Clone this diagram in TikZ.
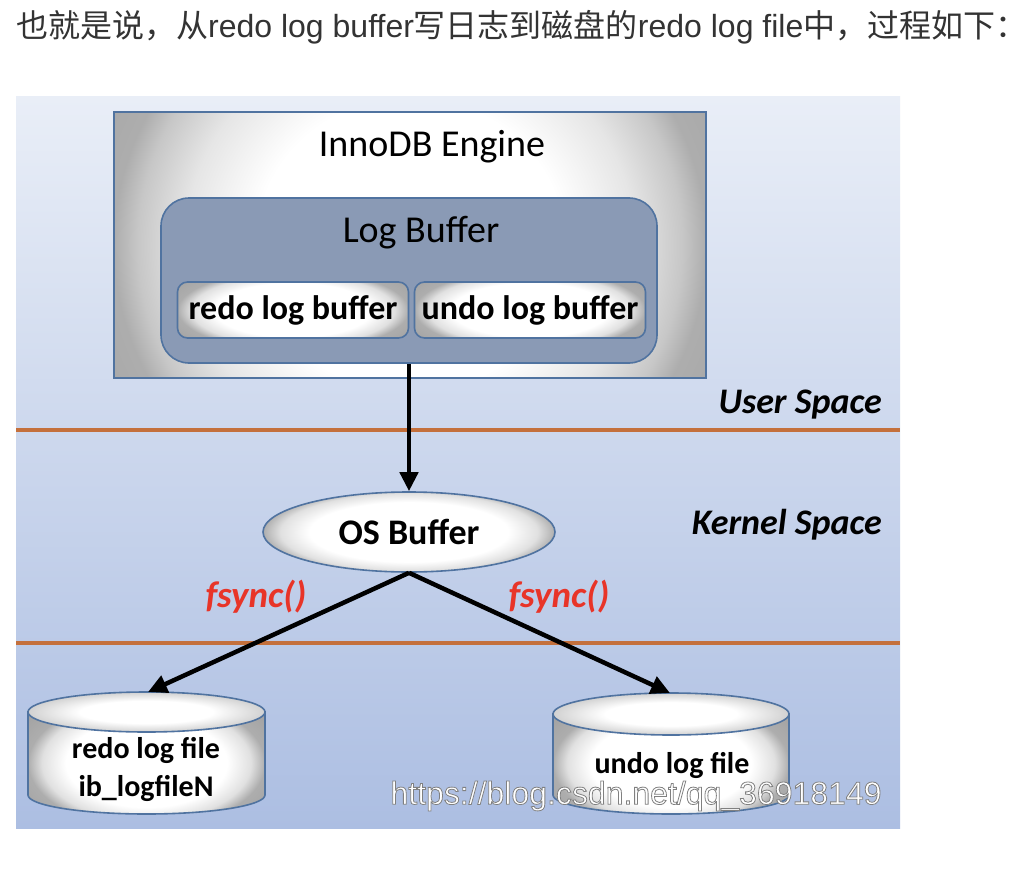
\documentclass[tikz,border=0pt]{standalone}
\usepackage{fontspec}
\setmainfont{Carlito}
\newfontfamily\cjk{Noto Sans CJK SC}
\newfontfamily\arialf{Liberation Sans}
\usetikzlibrary{arrows.meta,shapes.geometric}
\definecolor{bordblue}{RGB}{80,115,160}
\definecolor{lbfill}{RGB}{138,154,181}
\definecolor{orangeline}{RGB}{196,112,60}
\definecolor{fsred}{RGB}{232,52,40}
\definecolor{bgtop}{RGB}{233,238,247}
\definecolor{bgbot}{RGB}{172,190,226}
\definecolor{titlegray}{RGB}{51,51,51}
\pgfdeclareradialshading{radgray}{\pgfpoint{0bp}{0bp}}{color(0bp)=(white); color(17bp)=(white); color(22bp)=(black!12); color(25bp)=(black!32); color(36bp)=(black!40); color(50bp)=(black!40)}
\pgfdeclareradialshading{engshade}{\pgfpoint{0bp}{0bp}}{color(0bp)=(white); color(13bp)=(white); color(19bp)=(black!10); color(23bp)=(black!22); color(25bp)=(black!32); color(36bp)=(black!38); color(50bp)=(black!38)}
\pgfdeclareradialshading{lightgray}{\pgfpoint{0bp}{0bp}}{color(0bp)=(white); color(14bp)=(white); color(25bp)=(black!18); color(50bp)=(black!18)}
\tikzset{
  gshade/.style={path picture={\shade[shading=radgray] ([yshift=-#1]path picture bounding box.south west) rectangle ([yshift=#1]path picture bounding box.north east);}},
  sep/.style={draw=orangeline, line width=3.2pt},
  boxborder/.style={draw=bordblue, line width=1.6pt},
  bufbox/.style={boxborder, gshade=12pt, rounded corners=10pt, minimum width=231pt, minimum height=56pt, inner sep=0pt, font=\bfseries\fontsize{34}{36}\selectfont},
  plainlbl/.style={inner sep=0pt, font=\fontsize{38}{40}\selectfont},
  spacelbl/.style={inner sep=0pt, anchor=east, font=\bfseries\itshape\fontsize{36}{40}\selectfont},
  fslbl/.style={inner sep=0pt, text=fsred, font=\bfseries\itshape\fontsize{37}{40}\selectfont},
  cyltext/.style={inner sep=0pt, align=center, font=\bfseries\fontsize{30}{38}\selectfont},
  flow/.style={line width=4.5pt, -{Triangle[length=19pt,width=18pt]}},
}
\begin{document}
\begin{tikzpicture}[x=1pt,y=-1pt]
\fill[white] (0,0) rectangle (1036,872);
\useasboundingbox (0,0) rectangle (1036,872);
% title
\node[anchor=west, inner sep=0pt, text=titlegray, font=\cjk\fontsize{32}{36}\selectfont] (title) at (16,27) {也就是说，从{\arialf redo log buffer}写日志到磁盘的{\arialf redo log file}中，过程如下：};
% panel
\fill[top color=bgtop, bottom color=bgbot] (16,97) rectangle (900,828);
% separators
\draw[sep] (16,430) -- (900,430);
\draw[sep] (16,643) -- (900,643);
% engine
\node[boxborder, minimum width=592pt, minimum height=266pt, inner sep=0pt,
  path picture={\shade[shading=engshade] ([yshift=-150pt]path picture bounding box.south west) rectangle ([yshift=150pt]path picture bounding box.north east);}] (eng) at (410,245) {};
\node[plainlbl] (englbl) at (432,147) {InnoDB Engine};
\node[boxborder, fill=lbfill, rounded corners=28pt, minimum width=496pt, minimum height=165pt, inner sep=0pt] (lb) at (409,280.5) {};
\node[plainlbl] (lblbl) at (421,233) {Log Buffer};
\node[bufbox] (redobuf) at (293,310) {redo log buffer};
\node[bufbox] (undobuf) at (530,310) {undo log buffer};
% labels
\node[spacelbl] (us) at (882,405) {User Space};
\node[spacelbl] (ks) at (882,525) {Kernel Space};
% OS buffer
\node[ellipse, boxborder, gshade=4pt, minimum width=292pt, minimum height=80pt, inner sep=0pt, font=\bfseries\fontsize{36}{40}\selectfont] (osb) at (409,532) {OS Buffer};
% cylinders
\path[boxborder, gshade=14pt] (28,712) -- (28,795) arc[start angle=180, end angle=0, x radius=118.5, y radius=19] -- (265,712) -- cycle;
\shade[shading=lightgray, boxborder] (146.5,712) ellipse [x radius=118.5, y radius=20];
\path[boxborder, gshade=14pt] (553,714) -- (553,795) arc[start angle=180, end angle=0, x radius=118, y radius=19] -- (789,714) -- cycle;
\shade[shading=lightgray, boxborder] (671,714) ellipse [x radius=118, y radius=21];
\coordinate (redotop) at (148,692);
\coordinate (undotop) at (670,693);
\node[cyltext] (redofile) at (146,769) {redo log file\\ib\_logfileN};
\node[cyltext] (undofile) at (672,765) {undo log file};
% arrows
\draw[flow] (lb.south) -- (osb.north);
\draw[flow] (osb.south) -- (redotop);
\draw[flow] (osb.south) -- (undotop);
\node[fslbl] (fs1) at (256,597) {fsync()};
\node[fslbl] (fs2) at (559,597) {fsync()};
% watermark
\node[inner sep=0pt, text=white, font=\arialf\fontsize{32}{34}\selectfont] (wm) at (636,796) {\special{pdf:code 2 Tr 0.8 w 0.5 0.5 0.5 RG}https://blog.csdn.net/qq\_36918149\special{pdf:code 0 Tr}};
\end{tikzpicture}
\end{document}
